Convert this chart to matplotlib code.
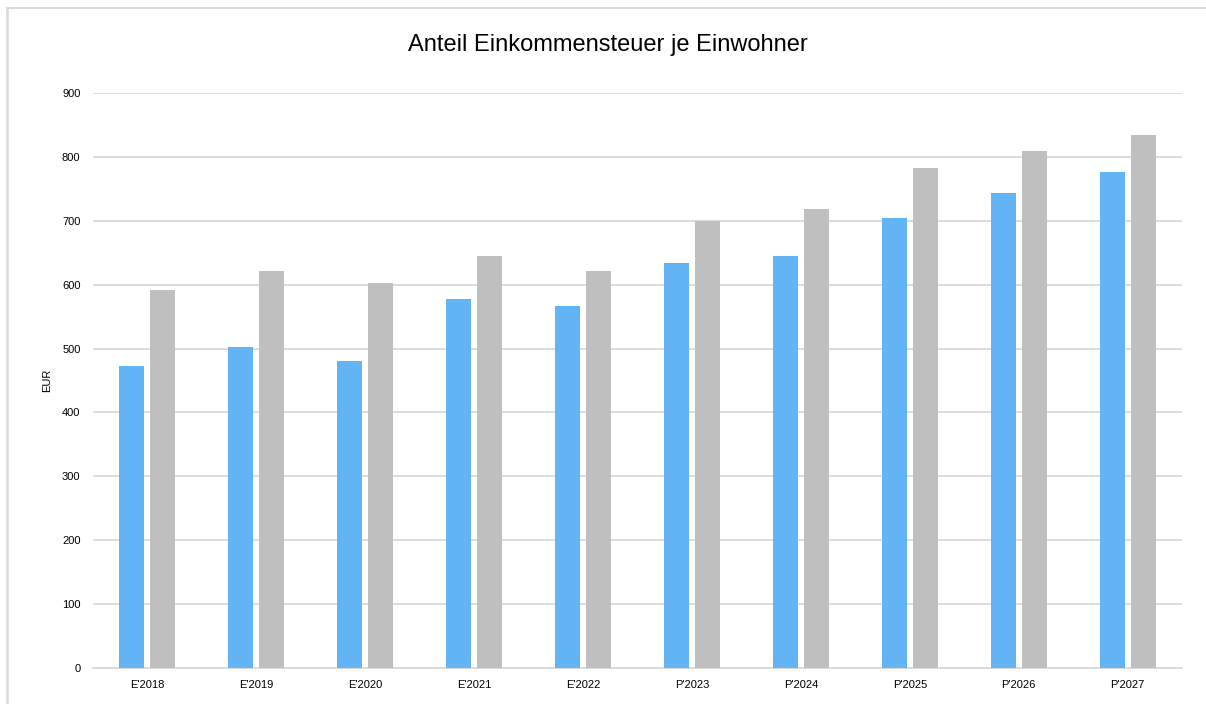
import matplotlib
matplotlib.use('Agg')
import matplotlib.pyplot as plt
from matplotlib.lines import Line2D
import numpy as np

plt.rcParams['font.family'] = ['Liberation Sans Narrow', 'Liberation Sans', 'DejaVu Sans']

categories = ["E'2018", "E'2019", "E'2020", "E'2021", "E'2022",
              "P'2023", "P'2024", "P'2025", "P'2026", "P'2027"]
series_blue = [473, 502, 480, 578, 567, 634, 645, 704, 744, 776]
series_gray = [591, 622, 603, 645, 621, 700, 718, 782, 810, 835]

fig = plt.figure(figsize=(12.06, 7.04), dpi=100)
# plot area: x 93..1182 px, y 93..668 px
ax = fig.add_axes([93 / 1206, (704 - 668) / 704, (1182 - 93) / 1206, (668 - 93) / 704])

# outer frame: only top and left edges show
fig.lines.append(Line2D([7 / 1206, 1], [1 - 7.5 / 704, 1 - 7.5 / 704], transform=fig.transFigure,
                        color='#D9D9D9', linewidth=1.5))
fig.lines.append(Line2D([7 / 1206, 7 / 1206], [0, 1 - 7.5 / 704], transform=fig.transFigure,
                        color='#D9D9D9', linewidth=1.8))

x = np.arange(len(categories))
width = 0.23
gap = 0.055
ax.bar(x - (width + gap) / 2, series_blue, width, color='#63B4F5', zorder=3)
ax.bar(x + (width + gap) / 2, series_gray, width, color='#BFBFBF', zorder=3)

ax.set_xlim(-0.5, len(categories) - 0.5)
ax.set_ylim(0, 900)
ax.set_yticks(range(0, 901, 100))
ax.yaxis.grid(True, color='#D9D9D9', linewidth=1.3, zorder=0)
ax.set_axisbelow(True)
for s in ['top', 'right', 'left']:
    ax.spines[s].set_visible(False)
ax.spines['bottom'].set_color('#D9D9D9')
ax.spines['bottom'].set_linewidth(1.3)
ax.tick_params(axis='y', length=0, labelsize=8, pad=9)
ax.tick_params(axis='x', length=0, labelsize=8, pad=9)
ax.set_xticks(x)
ax.set_xticklabels(categories)
ax.set_ylabel('EUR', fontsize=8, labelpad=7)

fig.text(0.504, 1 - 45 / 704, 'Anteil Einkommensteuer je Einwohner', ha='center', va='center',
         fontsize=17)

plt.savefig('out.png', dpi=100)
